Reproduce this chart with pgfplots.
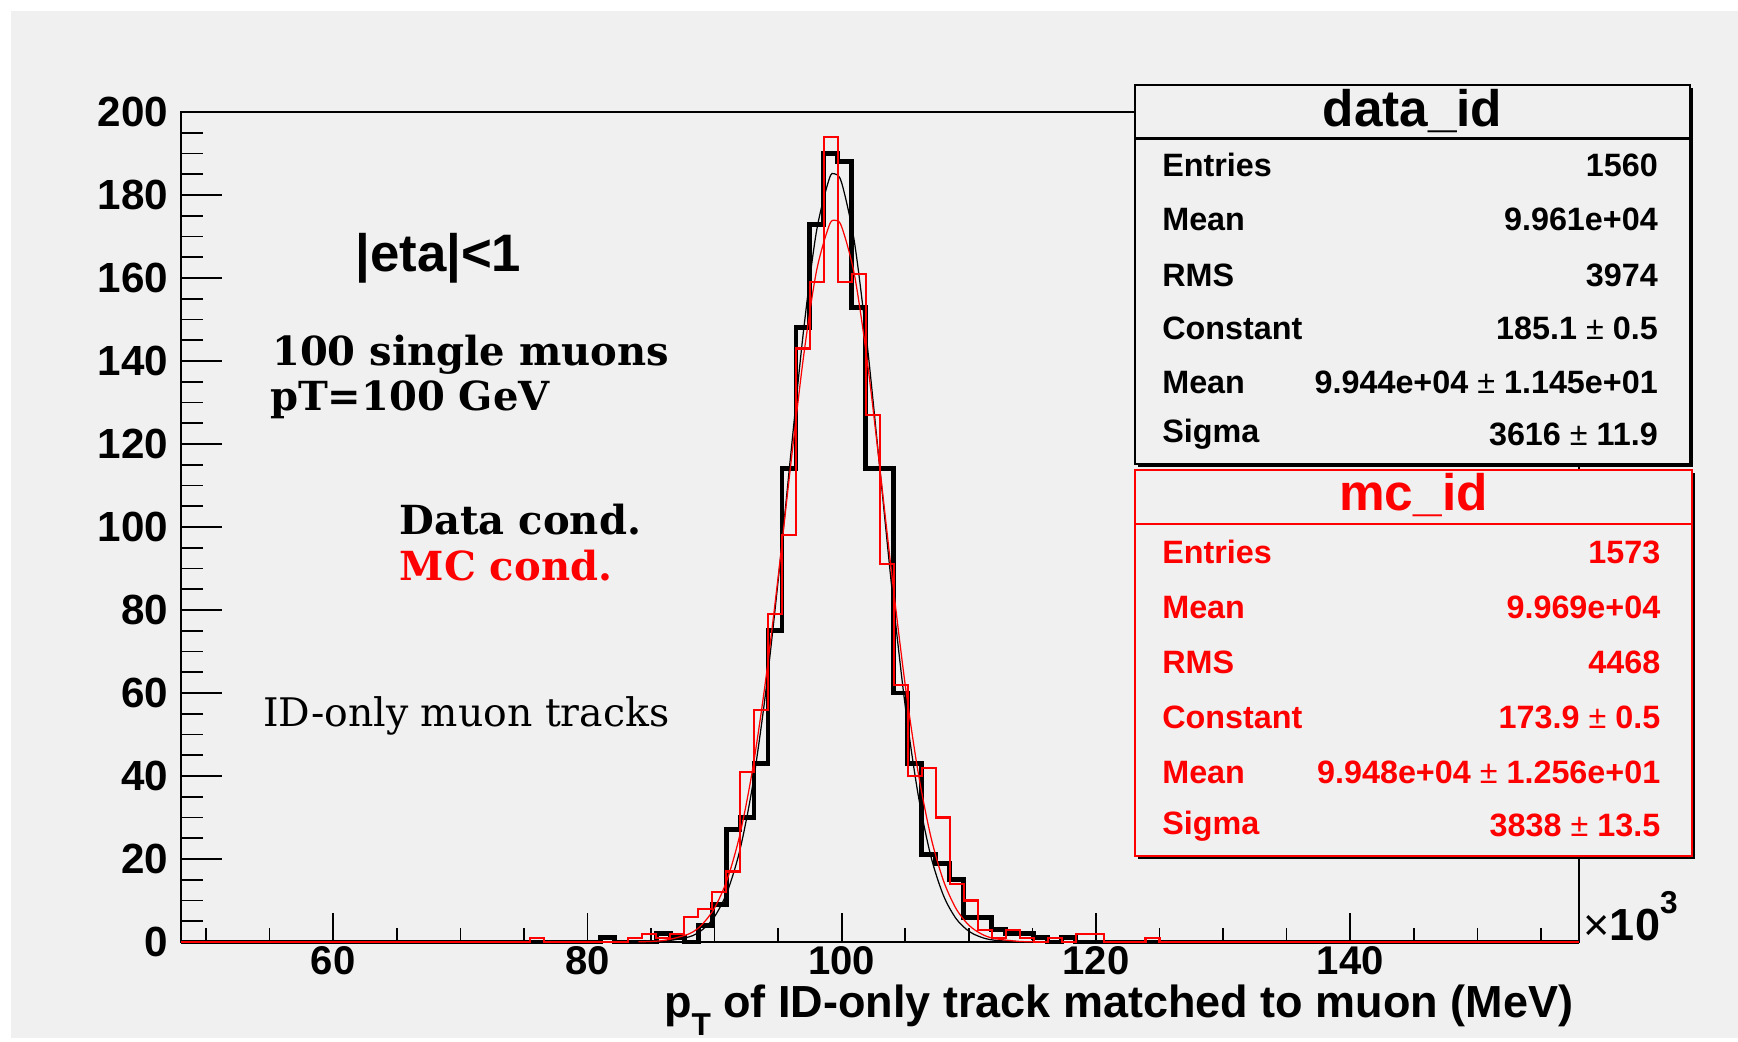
\documentclass[border=0pt]{standalone}
\usepackage{pgfplots}
\pgfplotsset{compat=1.18}
\usepackage{fontspec}
\setmainfont{Liberation Sans}
\newfontfamily\djserif{DejaVu Serif}
\definecolor{bg}{RGB}{240,240,240}
\definecolor{rootred}{RGB}{255,0,0}
\begin{document}
\begin{tikzpicture}[x=1cm,y=1cm]
\useasboundingbox (0,0) rectangle (17.38,10.41);
\fill[white] (0,0) rectangle (17.38,10.41);
\fill[bg] (0.11,0.03) rectangle (17.38,10.30);
\begin{axis}[
  at={(1.807cm,0.99cm)}, anchor=south west,
  scale only axis, width=13.983cm, height=8.30cm,
  xmin=48, xmax=158, ymin=0, ymax=200,
  clip=false,
  axis line style={line width=0.6pt},
  xtick={40,60,...,160}, minor x tick num=3,
  ytick={0,20,...,200}, minor y tick num=3,
  xtick pos=bottom, ytick pos=left, tick align=inside,
  xtick style={line width=0.45pt, black, /pgfplots/major tick length=2.86mm, /pgfplots/minor tick length=1.43mm},
  ytick style={line width=0.45pt, black, /pgfplots/major tick length=4.1mm, /pgfplots/minor tick length=2.2mm},
  yticklabel style={font=\fontsize{12}{12}\selectfont\bfseries},
  xticklabel style={font=\fontsize{11.4}{12}\selectfont\bfseries, inner ysep=0.5pt, yshift=-0.6pt},
  /pgf/number format/assume math mode=true,
]
% data_id histogram (bin left edges, counts), bins of 1.1e3 from 48e3 to 158e3
\addplot[const plot, black, line width=1.4pt, line join=miter] coordinates {
(48,0) (81.0,1) (82.1,0) (85.4,2) (86.5,1) (87.6,0) (88.7,4) (89.8,9) (90.9,27)
(92.0,30) (93.1,43) (94.2,75) (95.3,114) (96.4,148) (97.5,173) (98.6,190) (99.7,188)
(100.8,153) (101.9,114) (103.0,114) (104.1,60) (105.2,43) (106.3,21) (107.4,19)
(108.5,15) (109.6,6) (110.7,6) (111.8,3) (112.9,2) (114.0,2) (115.1,1) (116.2,0)
(117.3,1) (118.4,0) (158,0)};
% data_id gaussian fit
\addplot[black, line width=0.35pt, smooth] coordinates {
(84,0.02) (86,0.19) (88,1.24) (89,2.87) (90,6.13) (91,12.15) (92,22.29) (93,37.90)
(94,59.70) (95,87.10) (96,117.73) (97,147.41) (98,170.99) (99,183.73) (99.44,185.1)
(100,182.89) (101,168.65) (102,144.07) (103,114.01) (104,83.58) (105,56.76) (106,35.71)
(107,20.81) (108,11.23) (109,5.62) (110,2.60) (111,1.12) (112,0.44) (114,0.06) (116,0.01)};
% mc_id histogram
\addplot[const plot, rootred, line width=0.6pt, line join=miter] coordinates {
(48,0) (75.5,1) (76.6,0) (83.2,1) (84.3,2) (85.4,1) (86.5,2) (87.6,6) (88.7,8)
(89.8,12) (90.9,17) (92.0,41) (93.1,56) (94.2,79) (95.3,98) (96.4,143) (97.5,159)
(98.6,194) (99.7,159) (100.8,161) (101.9,127) (103.0,91) (104.1,62) (105.2,40)
(106.3,42) (107.4,30) (108.5,14) (109.6,10) (110.7,3) (111.8,1) (112.9,3) (114.0,1)
(115.1,0) (116.2,1) (117.3,0) (118.4,2) (120.6,0) (123.9,1) (125.0,0) (158,0)};
% mc_id gaussian fit
\addplot[rootred, line width=0.35pt, smooth] coordinates {
(84,0.05) (86,0.37) (88,1.98) (89,4.18) (90,8.23) (91,15.14) (92,26.03) (93,41.81)
(94,62.74) (95,87.99) (96,115.28) (97,141.13) (98,161.44) (99,172.55) (99.48,173.9)
(100,172.31) (101,160.78) (102,140.18) (103,114.20) (104,86.91) (105,61.82) (106,41.08)
(107,25.50) (108,14.80) (109,8.02) (110,4.06) (111,1.92) (112,0.85) (114,0.14) (116,0.02)};
\end{axis}
% axis title and exponent
\node[anchor=base east, inner sep=0, font=\fontsize{12.8}{13}\selectfont\bfseries] at (15.74,0.235)
  {p\raisebox{-0.75ex}{\fontsize{9}{9}\selectfont T} of ID-only track matched to muon (MeV)};
\node[anchor=base west, inner sep=0, font=\fontsize{12.8}{13}\selectfont\bfseries] at (15.83,1.01)
  {{\mdseries ×}10\raisebox{1.1ex}{\fontsize{9}{9}\selectfont 3}};
% annotations
\node[anchor=west, inner sep=0, font=\fontsize{15}{15}\selectfont\bfseries] at (3.547,7.83) {|eta|<1};
\node[anchor=west, inner sep=0, font=\djserif\bfseries\fontsize{11.4}{11.4}\selectfont] at (2.715,6.865) {100 single muons};
\node[anchor=west, inner sep=0, font=\djserif\bfseries\fontsize{11.4}{11.4}\selectfont] at (2.693,6.41) {pT=100 GeV};
\node[anchor=west, inner sep=0, font=\djserif\bfseries\fontsize{11.4}{11.4}\selectfont] at (3.99,5.21) {Data cond.};
\node[anchor=west, inner sep=0, font=\djserif\bfseries\fontsize{11.4}{11.4}\selectfont, text=rootred] at (3.99,4.75) {MC cond.};
\node[anchor=west, inner sep=0, font=\djserif\fontsize{11.2}{11.2}\selectfont] at (2.627,3.25) {ID-only muon tracks};
% data_id stats box
\fill[black] (11.38,5.74) rectangle (16.93,9.53);
\filldraw[fill=bg, draw=black, line width=0.6pt] (11.35,5.77) rectangle (16.90,9.56);
\draw[black, line width=0.6pt] (11.35,9.025) -- (16.90,9.025);
\node[inner sep=0, font=\fontsize{14.6}{15}\selectfont\bfseries] at (14.125,9.30) {data\_id};
\begin{scope}[every node/.style={inner sep=0, font=\fontsize{9.2}{10}\selectfont\bfseries}]
\node[anchor=west] at (11.616,8.76) {Entries};   \node[anchor=east] at (16.585,8.76) {1560};
\node[anchor=west] at (11.616,8.215) {Mean};    \node[anchor=east] at (16.585,8.215) {9.961e+04};
\node[anchor=west] at (11.616,7.661) {RMS};     \node[anchor=east] at (16.585,7.661) {3974};
\node[anchor=west] at (11.616,7.13) {Constant}; \node[anchor=east] at (16.585,7.13) {185.1{\mdseries\ ±\ }0.5};
\node[anchor=west] at (11.616,6.586) {Mean};    \node[anchor=east] at (16.585,6.586) {9.944e+04{\mdseries\ ±\ }1.145e+01};
\node[anchor=west] at (11.616,6.065) {Sigma};   \node[anchor=east] at (16.585,6.065) {3616{\mdseries\ ±\ }11.9};
\end{scope}
% mc_id stats box
\fill[black] (11.38,1.823) rectangle (16.95,5.68);
\filldraw[fill=bg, draw=rootred, line width=0.6pt] (11.35,1.853) rectangle (16.92,5.71);
\draw[rootred, line width=0.6pt] (11.35,5.167) -- (16.92,5.167);
\node[inner sep=0, text=rootred, font=\fontsize{14.6}{15}\selectfont\bfseries] at (14.135,5.46) {mc\_id};
\begin{scope}[every node/.style={inner sep=0, text=rootred, font=\fontsize{9.2}{10}\selectfont\bfseries}]
\node[anchor=west] at (11.616,4.89) {Entries};   \node[anchor=east] at (16.61,4.89) {1573};
\node[anchor=west] at (11.616,4.336) {Mean};    \node[anchor=east] at (16.61,4.336) {9.969e+04};
\node[anchor=west] at (11.616,3.782) {RMS};     \node[anchor=east] at (16.61,3.782) {4468};
\node[anchor=west] at (11.616,3.239) {Constant}; \node[anchor=east] at (16.61,3.239) {173.9{\mdseries\ ±\ }0.5};
\node[anchor=west] at (11.616,2.684) {Mean};    \node[anchor=east] at (16.61,2.684) {9.948e+04{\mdseries\ ±\ }1.256e+01};
\node[anchor=west] at (11.616,2.152) {Sigma};   \node[anchor=east] at (16.61,2.152) {3838{\mdseries\ ±\ }13.5};
\end{scope}
\end{tikzpicture}
\end{document}
